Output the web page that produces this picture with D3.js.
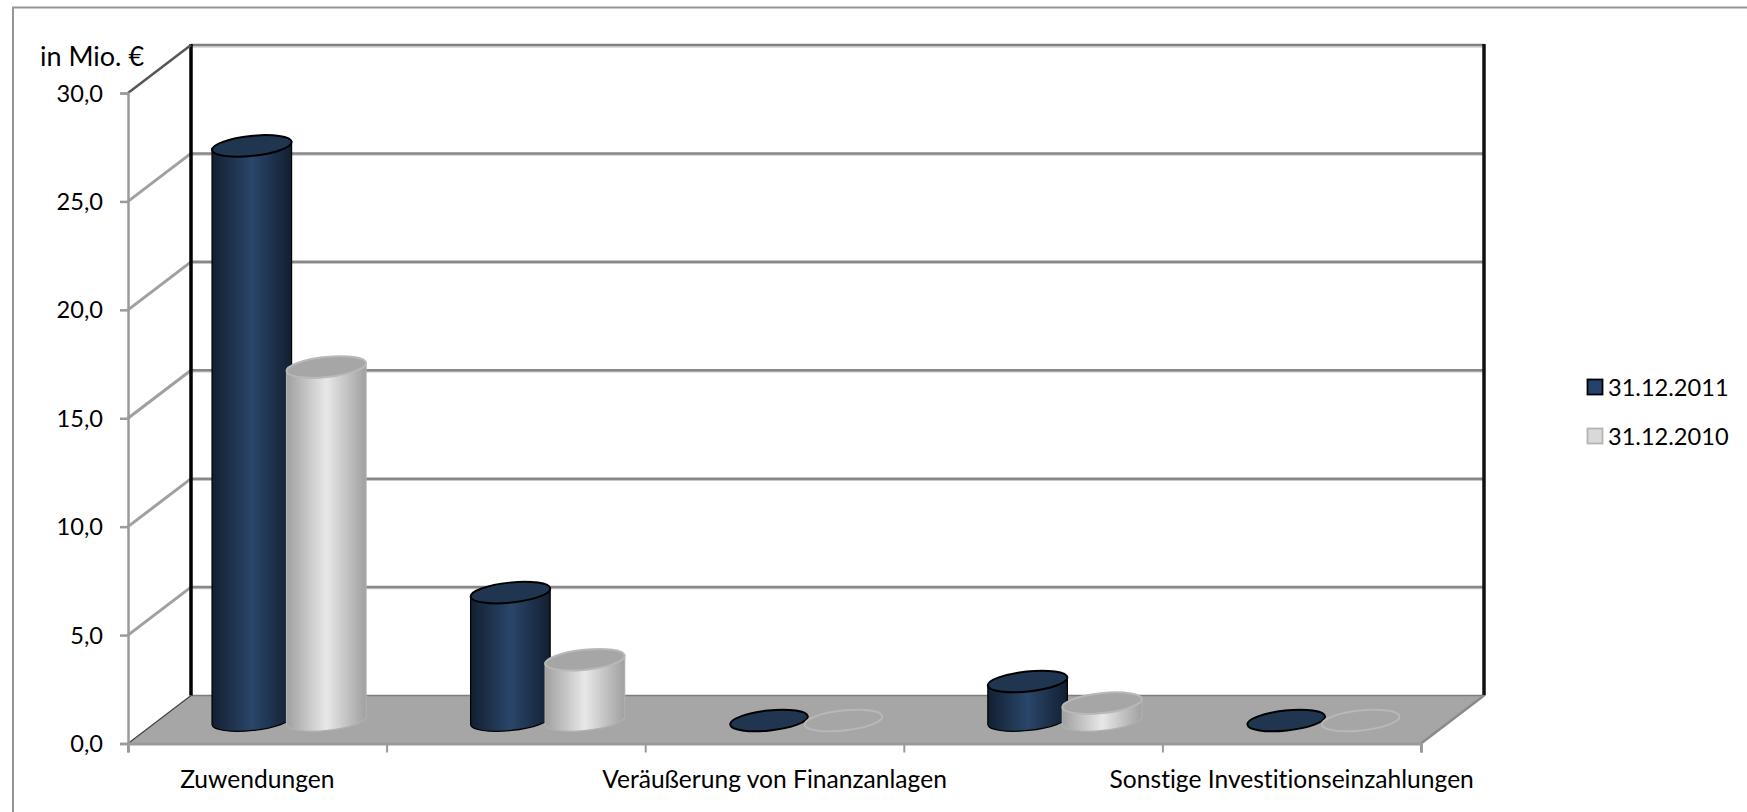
<!DOCTYPE html>
<html><head><meta charset="utf-8">
<script src="https://cdn.jsdelivr.net/npm/d3@7"></script>
<style>html,body{margin:0;padding:0;background:#fff;overflow:hidden}svg{display:block}text{font-family:Lato,"Open Sans",sans-serif;fill:#000;font-variant-ligatures:none}</style>
</head><body><svg id="c" width="1747" height="812"></svg>
<script>
const categories = ["Zuwendungen", "", "Veräußerung von Finanzanlagen", "", "Sonstige Investitionseinzahlungen"];
const seriesNames = ["31.12.2011", "31.12.2010"];
const values2011 = [26.5, 5.9, 0, 1.8, 0];
const values2010 = [16.3, 2.8, 0, 0.8, 0];
const yTicks = [0, 5, 10, 15, 20, 25, 30];

const svg = d3.select("#c");
const W = 1747, H = 812;
const dx = 63, dy = 48;
const x = d3.scaleBand().domain(d3.range(categories.length)).range([128, 1421]);
const y = d3.scaleLinear().domain([0, 30]).range([743.5, 93]);
const x0 = x.range()[0], x1 = x.range()[1];
const fsCat = 24.6, fsTick = 23.6, fsUnit = 27;

const defs = svg.append("defs");
function grad(id, edge, mid) {
  const g = defs.append("linearGradient").attr("id", id);
  [[0, edge], [0.5, mid], [1, edge]].forEach(([o, c]) => g.append("stop").attr("offset", o).attr("stop-color", c));
}
grad("gDark", "#121f31", "#2a466a");
grad("gLight", "#a0a0a0", "#e8e8e8");

// outer frame: left and top edges only
svg.append("path").attr("d", `M13,${H} V7.5 H${W}`).attr("fill", "none").attr("stroke", "#969696").attr("stroke-width", 2);

// back wall top
const topY = y(30) - dy;
svg.append("line").attr("x1", x0 + dx).attr("x2", x1 + dx).attr("y1", topY + 2).attr("y2", topY + 2).attr("stroke", "#d2d2d2").attr("stroke-width", 1.5);
svg.append("line").attr("x1", x0 + dx).attr("x2", x1 + dx).attr("y1", topY).attr("y2", topY).attr("stroke", "#808080").attr("stroke-width", 2.5);

// floor
svg.append("polygon")
  .attr("points", [[x0, y(0)], [x1, y(0)], [x1 + dx, y(0) - dy], [x0 + dx, y(0) - dy]].join(" "))
  .attr("fill", "#a6a6a6");

// grid
const grid = svg.append("g");
yTicks.filter(v => v > 0 && v < 30).forEach(v => {
  const yy = y(v);
  grid.append("path").attr("d", `M${x0},${yy} L${x0 + dx},${yy - dy}`).attr("stroke", "#a0a0a0").attr("stroke-width", 3).attr("fill", "none");
  grid.append("line").attr("x1", x0 + dx).attr("x2", x1 + dx).attr("y1", yy - dy + 1.5).attr("y2", yy - dy + 1.5).attr("stroke", "#c8c8c8").attr("stroke-width", 1.5);
  grid.append("line").attr("x1", x0 + dx).attr("x2", x1 + dx).attr("y1", yy - dy).attr("y2", yy - dy).attr("stroke", "#888888").attr("stroke-width", 2.5);
});
// floor back edge
svg.append("line").attr("x1", x0 + dx).attr("x2", x1 + dx).attr("y1", y(0) - dy).attr("y2", y(0) - dy).attr("stroke", "#7e7e7e").attr("stroke-width", 1.5);
// walls
svg.append("line").attr("x1", x0 + dx).attr("x2", x0 + dx).attr("y1", topY - 1).attr("y2", y(0) - dy).attr("stroke", "#000").attr("stroke-width", 3.5);
svg.append("line").attr("x1", x1 + dx).attr("x2", x1 + dx).attr("y1", topY - 1).attr("y2", y(0) - dy).attr("stroke", "#111").attr("stroke-width", 3.5);
svg.append("path").attr("d", `M${x0},${y(30)} L${x0 + dx},${topY}`).attr("stroke", "#555").attr("stroke-width", 2.5).attr("fill", "none");
svg.append("path").attr("d", `M${x0},${y(0)} L${x0 + dx},${y(0) - dy}`).attr("stroke", "#444").attr("stroke-width", 1.2).attr("fill", "none");
svg.append("path").attr("d", `M${x1},${y(0)} L${x1 + dx},${y(0) - dy}`).attr("stroke", "#8a8a8a").attr("stroke-width", 2.5).attr("fill", "none");

// axes
const axisY = d3.axisLeft(y).tickValues(yTicks).tickSize(8).tickPadding(17).tickFormat(d => d3.format(".1f")(d).replace(".", ","));
const gy = svg.append("g").attr("transform", `translate(${x0},0)`).call(axisY);
gy.selectAll("path,line").attr("stroke", "#9a9a9a").attr("stroke-width", 2.5);
gy.selectAll("text").attr("font-size", fsTick).attr("font-family", "Lato").attr("dy", "0.34em");

const xs = d3.scaleLinear().domain([0, categories.length]).range([x0, x1]);
const axisX = d3.axisBottom(xs).tickValues(d3.range(categories.length + 1)).tickSize(9).tickFormat("");
const gx = svg.append("g").attr("transform", `translate(0,${y(0)})`).call(axisX);
gx.selectAll("path,line").attr("stroke", "#9a9a9a").attr("stroke-width", 2);
gx.select("path").attr("stroke-width", 3);

svg.append("g").selectAll("text").data(categories).join("text")
  .attr("x", (d, i) => x(i) + x.bandwidth() / 2)
  .attr("y", 788).attr("text-anchor", "middle").attr("font-size", fsCat).text(d => d);

svg.append("text").attr("x", 40).attr("y", 66).attr("font-size", fsUnit).text("in Mio. €");

// cylinders
const rx = 40, ry = 10, tilt = -6;
const tiltRad = tilt * Math.PI / 180;
const ex = rx * Math.cos(tiltRad), ey = rx * Math.sin(tiltRad);
const offset = d3.scalePoint().domain([0, 1]).range([-37, 37.5]);
const styles = [
  { fill: "url(#gDark)", top: "#1f3550", stroke: "#000" },
  { fill: "url(#gLight)", top: "#a6a6a6", stroke: "#b8b8b8" }
];
const seriesVals = [values2011, values2010];
const bars = svg.append("g");
// draw band by band, series left to right, so the lighter cylinder overlaps the darker one
categories.forEach((_, i) => {
  seriesVals.forEach((vals, s) => {
    const v = vals[i], st = styles[s];
    const cx = x(i) + x.bandwidth() / 2 + dx / 2 + offset(s);
    const by = y(0) - dy / 2 + 1, ty = y(v) - dy / 2 + 1;
    if (v > 0) {
      bars.append("path")
        .attr("d", `M${cx - ex},${ty - ey} L${cx - ex},${by - ey} A${rx},${ry} ${tilt} 0 0 ${cx + ex},${by + ey} L${cx + ex},${ty + ey} Z`)
        .attr("fill", st.fill).attr("stroke", s === 0 ? "#000" : "#b0b0b0").attr("stroke-width", 1.2);
    }
    bars.append("ellipse")
      .attr("transform", `translate(${cx},${ty}) rotate(${tilt})`)
      .attr("rx", rx - (v > 0 ? 0 : 1)).attr("ry", ry)
      .attr("fill", st.top).attr("stroke", st.stroke).attr("stroke-width", 2);
  });
});

// legend
const leg = svg.append("g");
seriesNames.forEach((n, i) => {
  const ly = 387 + i * 49;
  leg.append("rect").attr("x", 1587.5).attr("y", ly - 7.5).attr("width", 15).attr("height", 15)
    .attr("fill", i ? "#d9d9d9" : "#24436a").attr("stroke", i ? "#b4b4b4" : "#000").attr("stroke-width", 1.8);
  leg.append("text").attr("x", 1608).attr("y", ly + 8.5).attr("font-size", fsTick).text(n);
});
</script></body></html>
